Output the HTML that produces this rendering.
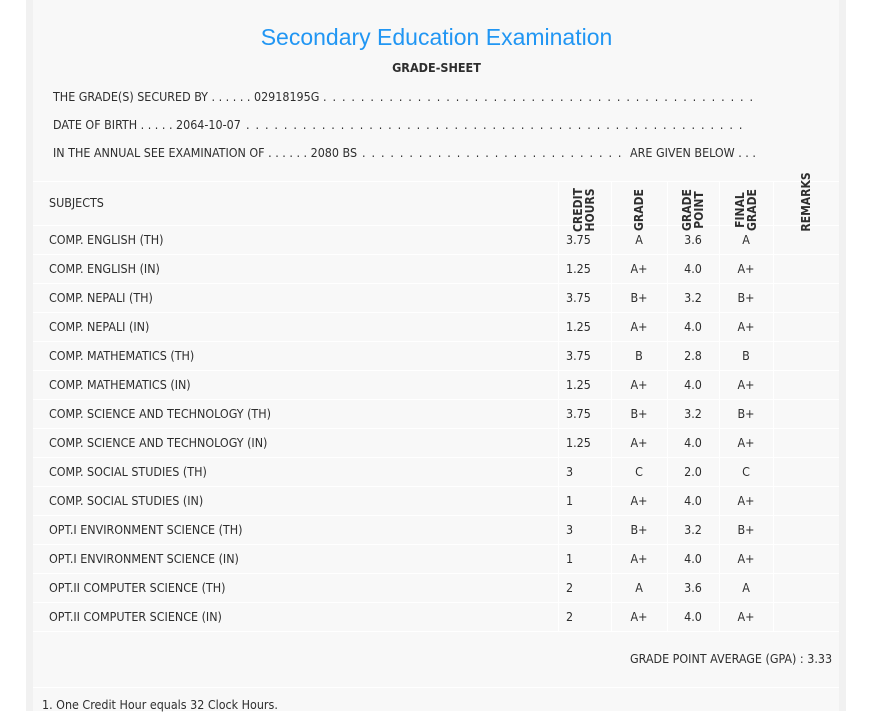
<!DOCTYPE html>
<html><head><meta charset="utf-8"><style>
*{margin:0;padding:0;box-sizing:border-box}
body{width:879px;height:711px;background:#fff;position:relative;overflow:hidden;font-family:"DejaVu Sans Condensed","Liberation Sans",sans-serif;color:#2e2e2e;font-size:12.4px}
.strip{position:absolute;top:0;height:711px;background:#f1f1f1}
.panel{position:absolute;left:33px;top:0;width:806px;height:711px;background:#f8f8f8}
.t{position:absolute;white-space:nowrap}
.hl{position:absolute;left:33px;width:806px;height:1px;background:#fff}
.vl{position:absolute;width:1px;background:#fff}
.c{position:absolute;text-align:center;white-space:nowrap}
.rot{position:absolute;transform:rotate(-90deg);transform-origin:center;text-align:center;font-weight:bold;line-height:12px;font-size:12px}
.dots{overflow:hidden;letter-spacing:1.2px}
</style></head><body>
<div class="strip" style="left:26px;width:7px"></div>
<div class="strip" style="left:839px;width:7px"></div>
<div class="panel"></div>
<div class="t" style="left:0;width:873px;text-align:center;top:24px;font-family:'Liberation Sans',sans-serif;font-size:23px;color:#2196f3;font-weight:300">Secondary Education Examination</div>
<div class="t" style="left:0;width:873px;text-align:center;top:60px;font-weight:bold;font-size:12.5px">GRADE-SHEET</div>
<div class="t" style="left:53px;top:89px">THE GRADE(S) SECURED BY . . . . . . 02918195G</div>
<div class="t dots" style="left:323px;top:89px;width:432px">. . . . . . . . . . . . . . . . . . . . . . . . . . . . . . . . . . . . . . . . . . . . . . . . . . . . . . . . . . . . . . . . . . . . . . . . . . . . . . . . . . . . . . . . . . . .</div>
<div class="t" style="left:53px;top:117px">DATE OF BIRTH . . . . . 2064-10-07</div>
<div class="t dots" style="left:246px;top:117px;width:497px">. . . . . . . . . . . . . . . . . . . . . . . . . . . . . . . . . . . . . . . . . . . . . . . . . . . . . . . . . . . . . . . . . . . . . . . . . . . . . . . . . . . . . . . . . . . . . . . . . . . . .</div>
<div class="t" style="left:53px;top:145px">IN THE ANNUAL SEE EXAMINATION OF . . . . . . 2080 BS</div>
<div class="t dots" style="left:362px;top:145px;width:266px">. . . . . . . . . . . . . . . . . . . . . . . . . . . . . . . . . . . . . . . . . . . . . . . . . . . . . . . . . . . . . . . .</div>
<div class="t" style="left:630px;top:145px">ARE GIVEN BELOW . . .</div>

<div class="hl" style="top:181px"></div>
<div id="rows"></div>
<div class="t" style="left:49px;top:195px">SUBJECTS</div>
<div class="rot" style="left:554px;top:198px;width:60px">CREDIT<br>HOURS</div>
<div class="rot" style="left:609px;top:198px;width:60px;line-height:24px">GRADE</div>
<div class="rot" style="left:663px;top:198px;width:60px">GRADE<br>POINT</div>
<div class="rot" style="left:716px;top:198px;width:60px">FINAL<br>GRADE</div>
<div class="rot" style="left:776px;top:196px;width:60px;line-height:12px">REMARKS</div>

<div class="hl" style="top:631px"></div>
<div class="t" style="left:630px;top:651px">GRADE POINT AVERAGE (GPA) : 3.33</div>
<div class="hl" style="top:687px"></div>
<div class="t" style="left:42px;top:697px">1. One Credit Hour equals 32 Clock Hours.</div>
<script>
var d=[["COMP. ENGLISH (TH)","3.75","A","3.6","A"],["COMP. ENGLISH (IN)","1.25","A+","4.0","A+"],["COMP. NEPALI (TH)","3.75","B+","3.2","B+"],["COMP. NEPALI (IN)","1.25","A+","4.0","A+"],["COMP. MATHEMATICS (TH)","3.75","B","2.8","B"],["COMP. MATHEMATICS (IN)","1.25","A+","4.0","A+"],["COMP. SCIENCE AND TECHNOLOGY (TH)","3.75","B+","3.2","B+"],["COMP. SCIENCE AND TECHNOLOGY (IN)","1.25","A+","4.0","A+"],["COMP. SOCIAL STUDIES (TH)","3","C","2.0","C"],["COMP. SOCIAL STUDIES (IN)","1","A+","4.0","A+"],["OPT.I ENVIRONMENT SCIENCE (TH)","3","B+","3.2","B+"],["OPT.I ENVIRONMENT SCIENCE (IN)","1","A+","4.0","A+"],["OPT.II COMPUTER SCIENCE (TH)","2","A","3.6","A"],["OPT.II COMPUTER SCIENCE (IN)","2","A+","4.0","A+"]];
var h="";
[558,611,667,719,773].forEach(function(x){h+='<div class="vl" style="left:'+x+'px;top:181px;height:450px"></div>';});
d.forEach(function(r,i){var y=225+i*29;
h+='<div class="hl" style="top:'+y+'px"></div>';
h+='<div class="t" style="left:49px;top:'+(y+7)+'px">'+r[0]+'</div>';
h+='<div class="t" style="left:566px;top:'+(y+7)+'px">'+r[1]+'</div>';
h+='<div class="c" style="left:611px;width:56px;top:'+(y+7)+'px">'+r[2]+'</div>';
h+='<div class="c" style="left:667px;width:52px;top:'+(y+7)+'px">'+r[3]+'</div>';
h+='<div class="c" style="left:719px;width:54px;top:'+(y+7)+'px">'+r[4]+'</div>';});
document.getElementById("rows").innerHTML=h;
</script>
</body></html>
